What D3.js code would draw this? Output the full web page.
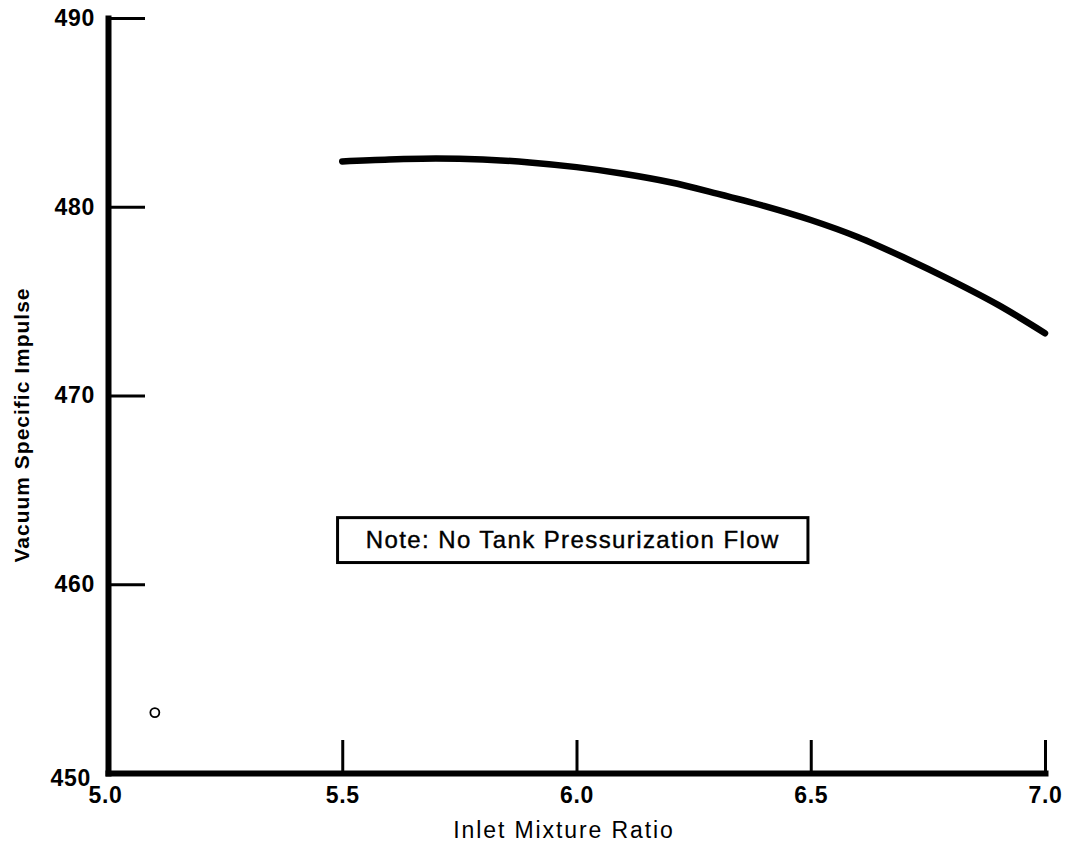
<!DOCTYPE html>
<html lang="en">
<head>
    <meta charset="UTF-8">
    <title>Vacuum Specific Impulse vs Inlet Mixture Ratio</title>
    <script src="https://cdn.jsdelivr.net/npm/d3@7"></script>
    <style>
        body { margin: 0; background: #fff; }
        text { font-family: "Liberation Sans", Arial, Helvetica, sans-serif; fill: #000; }
    </style>
</head>
<body>
<svg id="main" width="1073" height="847"></svg>
<script>
   // values
   mixtureRatio = [5.5, 5.6, 5.7, 5.8, 5.9, 6.0, 6.1, 6.2, 6.3, 6.4, 6.5, 6.6, 6.7, 6.8, 6.9, 7.0];
   specificImpulse = [482.4, 482.5, 482.55, 482.5, 482.35, 482.1, 481.75, 481.3, 480.7, 480.05, 479.3, 478.4, 477.3, 476.1, 474.8, 473.3];

   xTicks = [5.0, 5.5, 6.0, 6.5, 7.0];
   yTicks = [450, 460, 470, 480, 490];

   // stray open circle on the original sheet
   strayPoint = [[5.1, 453.2]];

   noteText = "Note: No Tank Pressurization Flow";
   xTitle = "Inlet Mixture Ratio";
   yTitle = "Vacuum Specific Impulse";

   svg = d3.select('svg#main');

   var x = d3.scaleLinear().domain([5.0, 7.0]).range([108, 1045]);
   var y = d3.scaleLinear().domain([450, 490]).range([773, 18]);

   // y axis, ticks pointing into the plot
   var gy = svg.append("g")
        .attr("transform", "translate(" + x(5.0) + ",0)")
        .call(d3.axisLeft(y).tickValues(yTicks).tickSizeInner(-37).tickSizeOuter(0).tickPadding(13).tickFormat(d3.format("d")));
   gy.select(".domain").attr("stroke-width", 6).attr("stroke-linecap", "square");
   gy.selectAll(".tick line").attr("stroke-width", 3);
   gy.selectAll(".tick text")
        .style("font-size", "23px").style("font-weight", "bold").style("letter-spacing", "0.7px");
   gy.selectAll(".tick").filter(d => d === 450).select("text").attr("dy", "0.55em").attr("x", -17);

   // x axis, ticks pointing up
   var gx = svg.append("g")
        .attr("transform", "translate(0," + y(450) + ")")
        .call(d3.axisBottom(x).tickValues(xTicks).tickSizeInner(-33).tickSizeOuter(0).tickPadding(14).tickFormat(d3.format(".1f")));
   gx.select(".domain").attr("stroke-width", 6).attr("stroke-linecap", "square");
   gx.selectAll(".tick line").attr("stroke-width", 3);
   gx.selectAll(".tick").filter(d => d === 5.0).select("line").remove();
   gx.selectAll(".tick").filter(d => d === 5.0).select("text").attr("x", -3);
   gx.selectAll(".tick text")
        .style("font-size", "23px").style("font-weight", "bold").style("letter-spacing", "0.7px");

   svg.append("text")
        .attr("x", 564)
        .attr("y", 838)
        .attr("text-anchor", "middle")
        .style("font-size", "23px")
        .style("letter-spacing", "1.9px")
        .text(xTitle);

   svg.append("text")
        .attr("transform", "translate(29," + 425 + ") rotate(-90)")
        .attr("text-anchor", "middle")
        .style("font-size", "21px")
        .style("font-weight", "bold")
        .style("letter-spacing", "1px")
        .text(yTitle);

   // the curve
   var line = d3.line()
        .x(function(d, i) { return x(mixtureRatio[i]); })
        .y(function(d) { return y(d); })
        .curve(d3.curveCatmullRom);

   svg.append("path")
        .datum(specificImpulse)
        .attr("d", line)
        .attr("fill", "none")
        .attr("stroke", "#000")
        .attr("stroke-width", 6.5)
        .attr("stroke-linecap", "round");

   svg.selectAll("circle.stray")
        .data(strayPoint)
        .enter()
        .append("circle")
        .attr("class", "stray")
        .attr("cx", d => x(d[0]))
        .attr("cy", d => y(d[1]))
        .attr("r", 4.5)
        .attr("fill", "none")
        .attr("stroke", "#000")
        .attr("stroke-width", 1.8);

   // note box
   var box = svg.append("g");
   box.append("rect")
        .attr("x", x(5.49))
        .attr("y", y(463.53))
        .attr("width", x(6.494) - x(5.49))
        .attr("height", y(461.15) - y(463.53))
        .attr("fill", "#fff")
        .attr("stroke", "#000")
        .attr("stroke-width", 3);
   box.append("text")
        .attr("x", (x(5.49) + x(6.494)) / 2)
        .attr("y", (y(463.53) + y(461.15)) / 2)
        .attr("dy", "0.35em")
        .attr("text-anchor", "middle")
        .style("font-size", "24px")
        .style("letter-spacing", "1.4px")
        .style("stroke", "#000")
        .style("stroke-width", "0.4px")
        .text(noteText);
</script>
</body>
</html>
